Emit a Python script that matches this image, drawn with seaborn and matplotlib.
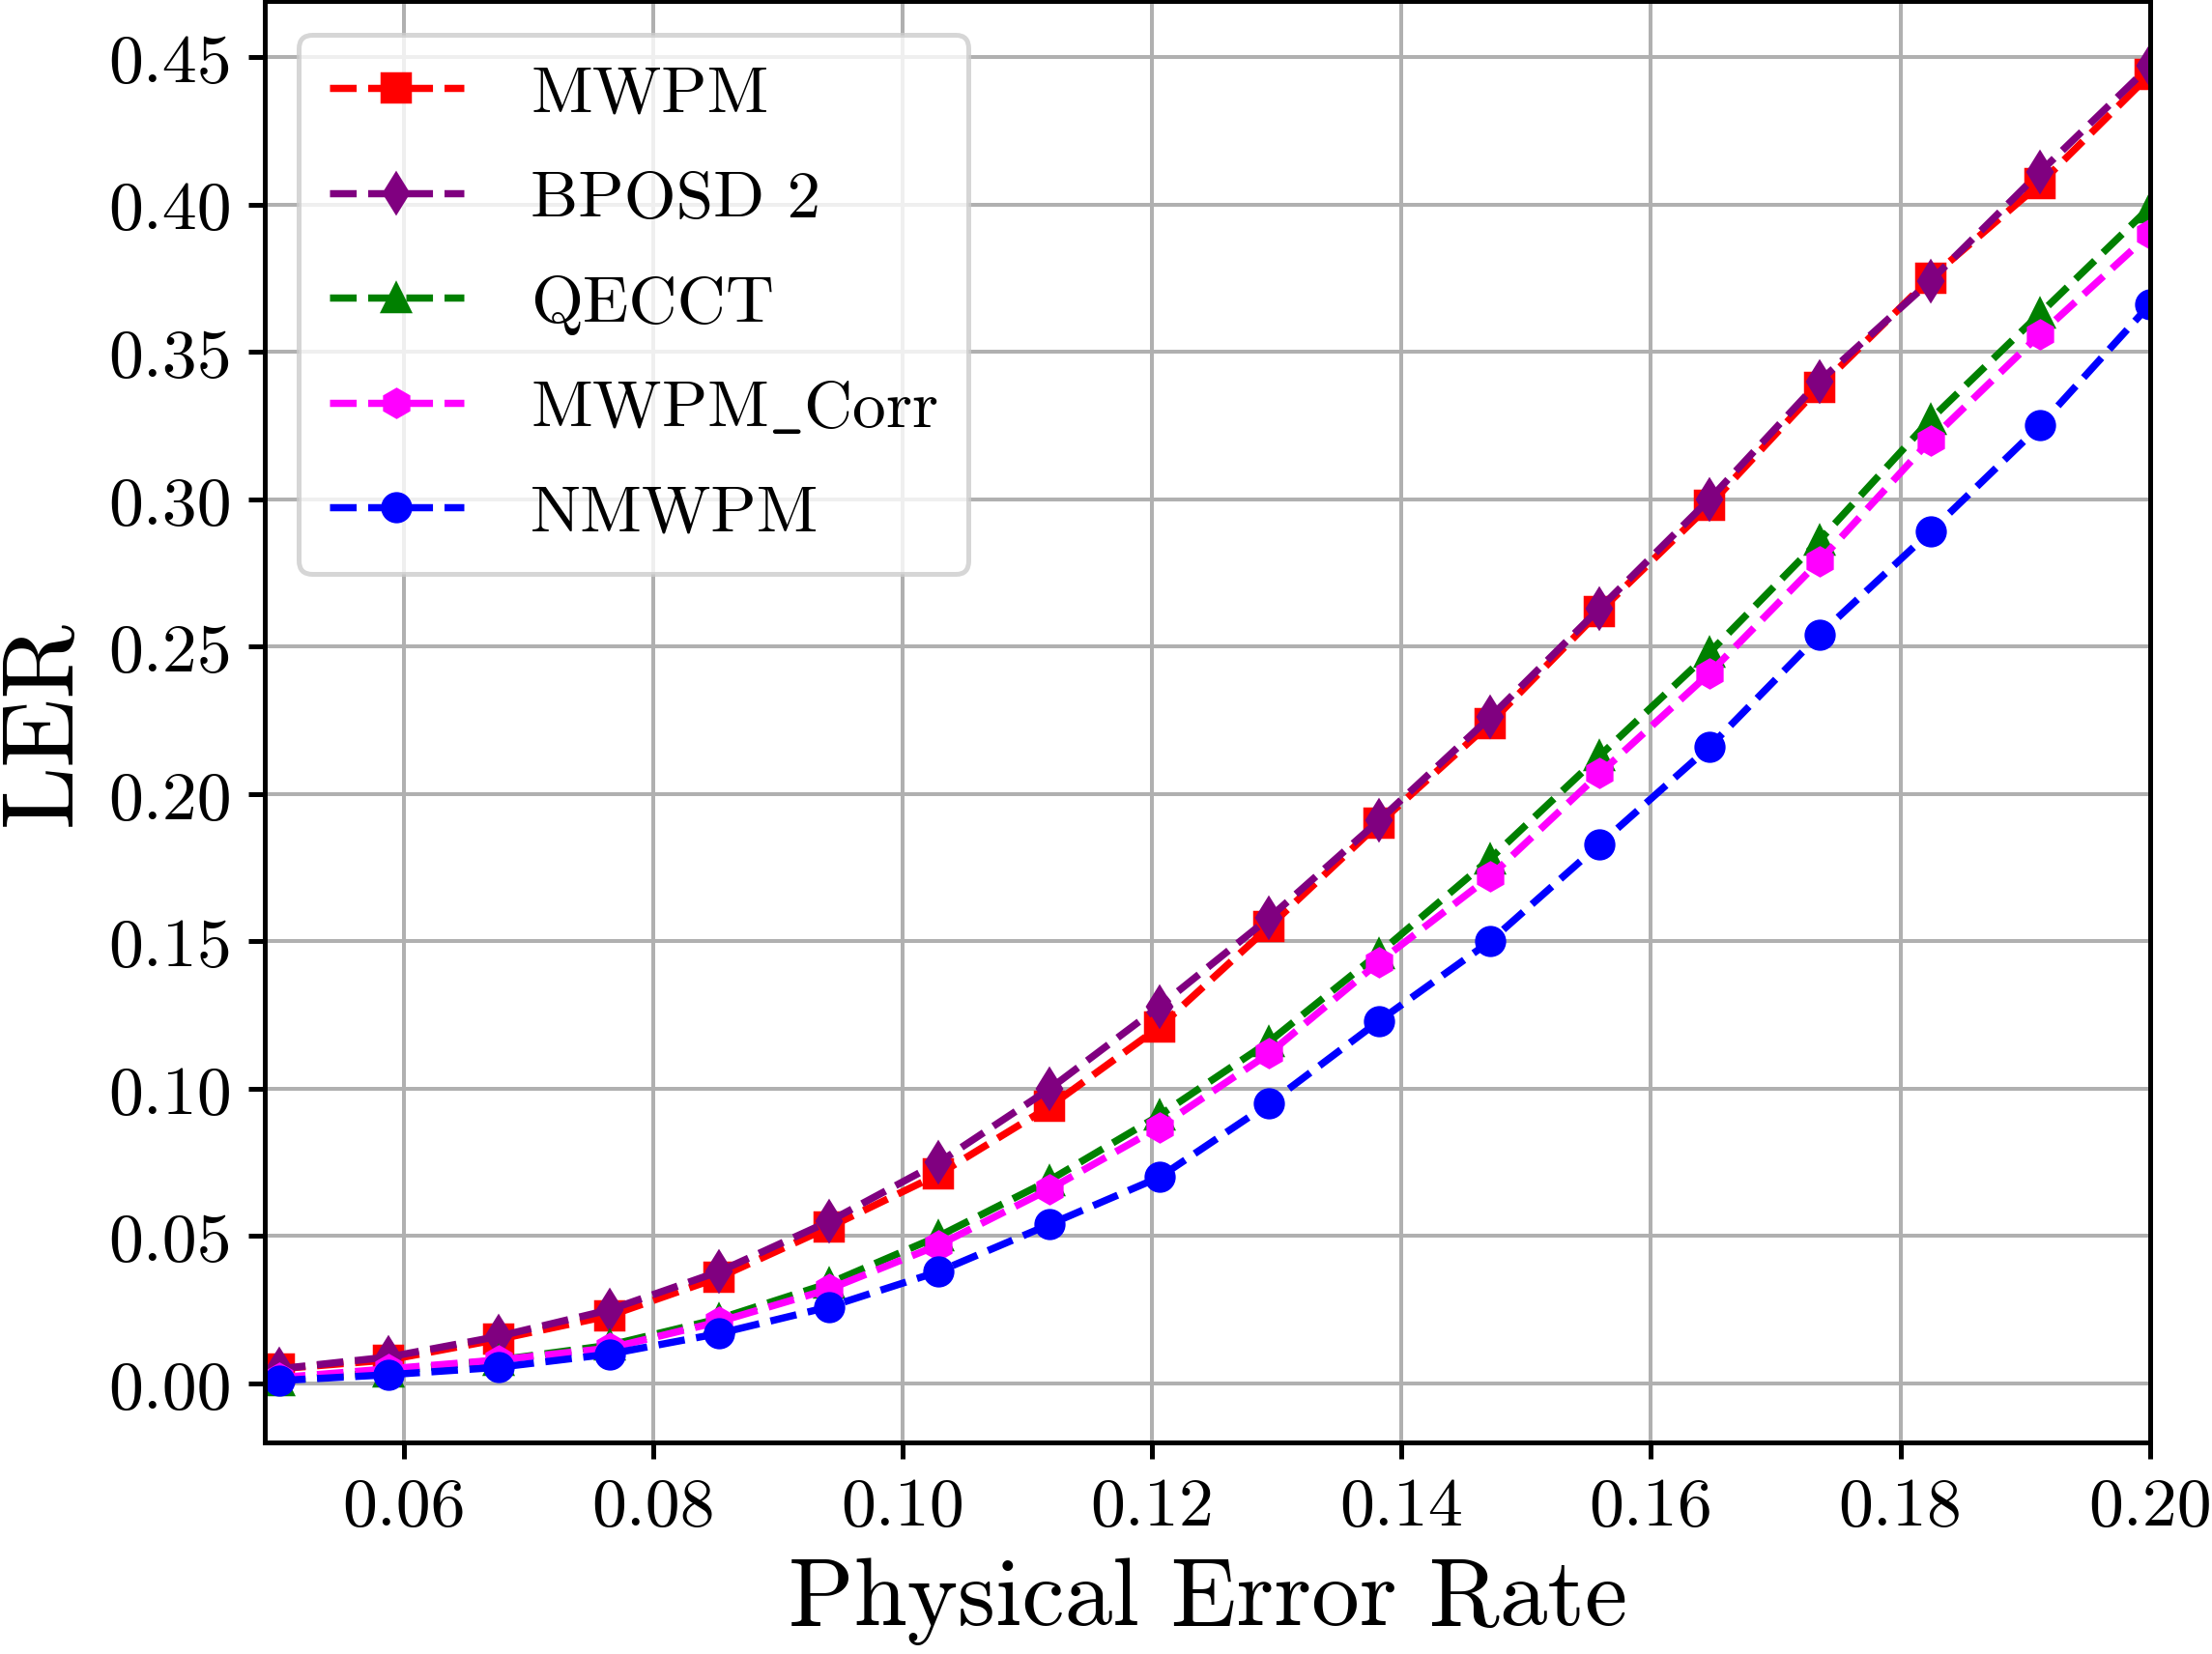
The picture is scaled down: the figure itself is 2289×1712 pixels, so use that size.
import matplotlib
matplotlib.use('Agg')
import matplotlib.pyplot as plt
import seaborn as sns

# physical error rates (x) and logical error rates per decoder
p_err = [0.0500, 0.0588, 0.0676, 0.0765, 0.0853, 0.0941, 0.1029, 0.1118, 0.1206,
         0.1294, 0.1382, 0.1471, 0.1559, 0.1647, 0.1735, 0.1824, 0.1912, 0.2000]

mwpm = [0.005, 0.008, 0.015, 0.023, 0.036, 0.053, 0.071, 0.094, 0.121,
        0.155, 0.190, 0.224, 0.262, 0.298, 0.338, 0.375, 0.407, 0.444]
bposd2 = [0.005, 0.009, 0.016, 0.025, 0.038, 0.055, 0.075, 0.100, 0.128,
          0.158, 0.191, 0.226, 0.263, 0.300, 0.340, 0.374, 0.411, 0.447]
qecct = [0.001, 0.004, 0.008, 0.013, 0.022, 0.034, 0.050, 0.069, 0.091,
         0.116, 0.146, 0.178, 0.213, 0.248, 0.286, 0.327, 0.363, 0.399]
mwpm_corr = [0.002, 0.005, 0.008, 0.012, 0.021, 0.032, 0.047, 0.066, 0.087,
             0.112, 0.143, 0.172, 0.207, 0.241, 0.279, 0.320, 0.356, 0.390]
nmwpm = [0.001, 0.003, 0.0055, 0.010, 0.017, 0.026, 0.038, 0.054, 0.070,
         0.095, 0.123, 0.150, 0.183, 0.216, 0.254, 0.289, 0.325, 0.366]

labels = ['MWPM', 'BPOSD 2', 'QECCT', r'MWPM$\_$Corr', 'NMWPM']
series = [mwpm, bposd2, qecct, mwpm_corr, nmwpm]
colors = ['red', 'purple', 'green', 'magenta', 'blue']
markers = ['s', 'd', '^', 'h', 'o']

sns.set_style('ticks')
plt.rcParams['font.family'] = ['cmr10', 'DejaVu Serif']
plt.rcParams['mathtext.fontset'] = 'cm'
plt.rcParams['axes.formatter.use_mathtext'] = True
for key in ['text.color', 'axes.labelcolor', 'xtick.color', 'ytick.color']:
    plt.rcParams[key] = 'black'

dpi = 357.66
fig = plt.figure(figsize=(2289 / dpi, 1713 / dpi), dpi=dpi)
ax = fig.add_axes([0.1199, 0.1278, 0.852, 0.871])

for ys, lab, c, m in zip(series, labels, colors, markers):
    sns.lineplot(x=p_err, y=ys, ax=ax, color=c, marker=m, linestyle='--',
                 linewidth=1.5, markersize=6, markeredgecolor=c,
                 markeredgewidth=0.5, label=lab)

ax.set_xlim(0.0489, 0.2)
ax.set_ylim(-0.02, 0.469)
ax.set_xticks([0.06, 0.08, 0.10, 0.12, 0.14, 0.16, 0.18, 0.20])
ax.set_xticklabels(['0.06', '0.08', '0.10', '0.12', '0.14', '0.16', '0.18', '0.20'])
yt = [0.00, 0.05, 0.10, 0.15, 0.20, 0.25, 0.30, 0.35, 0.40, 0.45]
ax.set_yticks(yt)
ax.set_yticklabels([f'{v:.2f}' for v in yt])
ax.tick_params(labelsize=14.5, length=3.5, width=1.0, colors='black')
ax.grid(True, color='#b0b0b0', linewidth=0.8)
for s in ax.spines.values():
    s.set_visible(True)
    s.set_color('black')
    s.set_linewidth(1.0)

ax.set_xlabel('Physical Error Rate', fontsize=20)
ax.set_ylabel('LER', fontsize=21)
ax.legend(loc='upper left', fontsize=14, labelspacing=0.67, handletextpad=1.0,
          handlelength=2.0, borderpad=0.45, framealpha=0.8)

fig.savefig('out.png', dpi=dpi)
